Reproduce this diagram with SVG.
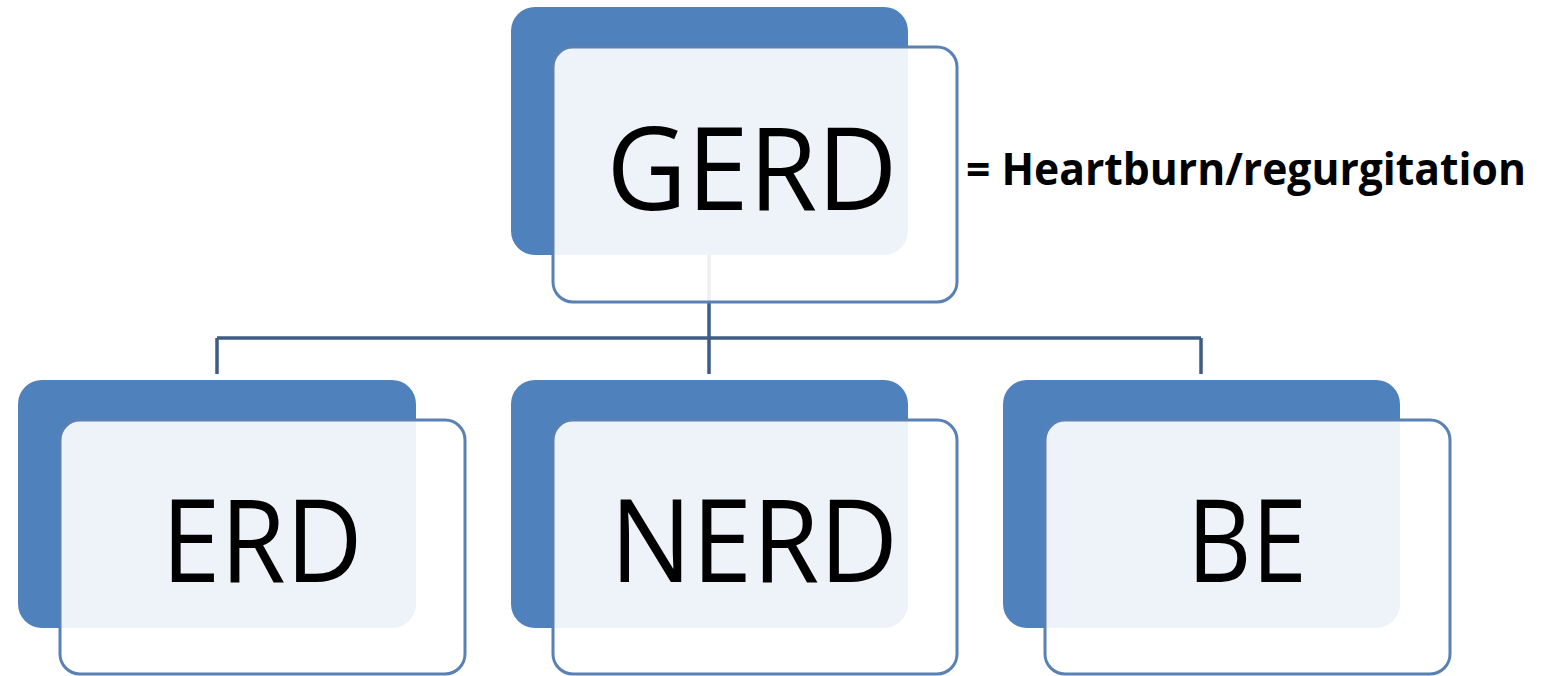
<svg xmlns="http://www.w3.org/2000/svg" width="1548" height="676" viewBox="0 0 1548 676">
  <style>
    .back { fill: #4f81bd; }
    .front { fill: #ffffff; fill-opacity: 0.9; stroke: #5a80b4; stroke-width: 3; }
    .conn { fill: none; stroke: #3e5c86; stroke-width: 3.5; }
    .lbl { font-family: "Open Sans", "Noto Sans", "Liberation Sans", sans-serif; font-size: 115px; fill: #000000; text-anchor: middle; }
    .note { font-family: "Open Sans", "Noto Sans", "Liberation Sans", sans-serif; font-size: 44px; font-weight: bold; fill: #000000; }
  </style>
  <rect width="1548" height="676" fill="#ffffff"/>
  <g id="connectors">
    <path class="conn" d="M709 255 V338 M217 338 H1201 M217 338 V374 M709 338 V374 M1201 338 V374"/>
  </g>
  <g id="node-gerd">
    <rect class="back" x="511" y="7" width="397" height="248" rx="24"/>
    <rect class="front" x="553" y="47" width="404" height="255" rx="20"/>
    <text class="lbl" x="752" y="210" textLength="291" lengthAdjust="spacingAndGlyphs">GERD</text>
  </g>
  <g id="note-heartburn">
    <text class="note" x="966" y="185" textLength="560" lengthAdjust="spacingAndGlyphs">= Heartburn/regurgitation</text>
  </g>
  <g id="node-erd">
    <rect class="back" x="18" y="380" width="398" height="248" rx="24"/>
    <rect class="front" x="60" y="420" width="405" height="254" rx="20"/>
    <text class="lbl" x="262" y="582" textLength="201" lengthAdjust="spacingAndGlyphs">ERD</text>
  </g>
  <g id="node-nerd">
    <rect class="back" x="511" y="380" width="397" height="248" rx="24"/>
    <rect class="front" x="553" y="420" width="404" height="254" rx="20"/>
    <text class="lbl" x="754" y="582" textLength="288" lengthAdjust="spacingAndGlyphs">NERD</text>
  </g>
  <g id="node-be">
    <rect class="back" x="1003" y="380" width="397" height="248" rx="24"/>
    <rect class="front" x="1045" y="420" width="405" height="254" rx="20"/>
    <text class="lbl" x="1247" y="582" textLength="120" lengthAdjust="spacingAndGlyphs">BE</text>
  </g>
</svg>
